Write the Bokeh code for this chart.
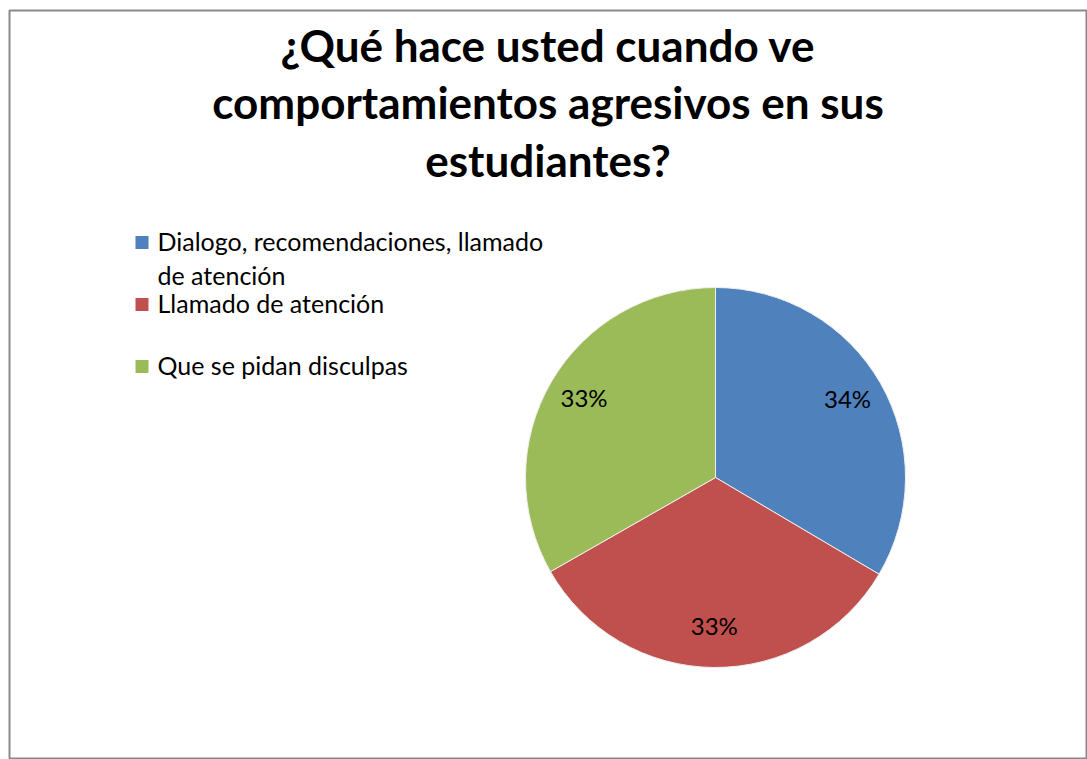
import math
import textwrap
from bokeh.plotting import figure
from bokeh.models import Range1d, ColumnDataSource
from bokeh.core.properties import value
from bokeh.embed import file_html
from bokeh.resources import INLINE

# ---------------- data ----------------
title_lines = ["¿Qué hace usted cuando ve",
               "comportamientos agresivos en sus",
               "estudiantes?"]
categories = ["Dialogo, recomendaciones, llamado de atención",
              "Llamado de atención",
              "Que se pidan disculpas"]
shares = [33.5, 33.25, 33.25]
colors = ["#4F81BD", "#C0504D", "#9BBB59"]

# ---------------- layout (screen px -> data) ----------------
W, H = 1087, 759
LEFT, TOP, RIGHT = 9, 10, 1
def X(px):
    return px
def Y(py):
    return H - py

FONT = "Lato"
cx, cy, R = X(715), Y(477), 190

p = figure(width=W, height=H,
           x_range=Range1d(LEFT, W - RIGHT), y_range=Range1d(0, H - TOP),
           output_backend="svg", toolbar_location=None,
           min_border_left=LEFT, min_border_top=TOP,
           min_border_right=RIGHT, min_border_bottom=0,
           x_axis_type=None, y_axis_type=None)
p.grid.visible = False
p.outline_line_color = "#8a8a8a"
p.outline_line_width = 2
p.background_fill_color = "white"
p.border_fill_color = "white"

# ---------------- pie ----------------
total = sum(shares)
starts, ends, mids = [], [], []
acc = 0.0
for s in shares:
    a0 = math.pi / 2 - 2 * math.pi * acc / total
    acc += s
    a1 = math.pi / 2 - 2 * math.pi * acc / total
    starts.append(a0)
    ends.append(a1)
    mids.append((a0 + a1) / 2)

src = ColumnDataSource(dict(start=starts, end=ends, color=colors, cat=categories))
p.wedge(x=cx, y=cy, radius=R, start_angle="start", end_angle="end",
        direction="clock", fill_color="color", line_color="#eeeeee",
        line_width=1, source=src)

labels = [f"{int(math.floor(s / total * 100 + 0.5))}%" for s in shares]
lr = 0.8 * R
lsrc = ColumnDataSource(dict(x=[cx + lr * math.cos(m) for m in mids],
                             y=[cy + lr * math.sin(m) + 4 for m in mids],
                             t=labels))
p.text(x="x", y="y", text="t", source=lsrc, text_font=value(FONT),
       text_font_size="24px", text_align="center", text_baseline="middle",
       text_color="black")

# ---------------- title ----------------
title_base = [44, 101, 159]
tsrc = ColumnDataSource(dict(x=[X(547.5)] * len(title_lines),
                             y=[Y(b) for b in title_base],
                             t=title_lines))
p.text(x="x", y="y", text="t", source=tsrc, text_font=value(FONT),
       text_font_size="44px", text_font_style="bold", text_align="center",
       text_baseline="alphabetic", text_color="black")

# ---------------- legend ----------------
legend_rows = [242, 304, 366]
sq_x = X(141.5)
p.rect(x=[sq_x] * len(categories), y=[Y(r) for r in legend_rows],
       width=13, height=13, fill_color=colors, line_color=None)
lx, ly, lt = [], [], []
for cat, row in zip(categories, legend_rows):
    for i, line in enumerate(textwrap.wrap(cat, width=33)):
        lx.append(X(157))
        ly.append(Y(row - 2 + 34 * i))
        lt.append(line)
p.text(x=lx, y=ly, text=lt, text_font=value(FONT), text_font_size="25px",
       text_align="left", text_baseline="alphabetic", text_color="black")

open("out.html", "w").write(file_html(p, INLINE))
